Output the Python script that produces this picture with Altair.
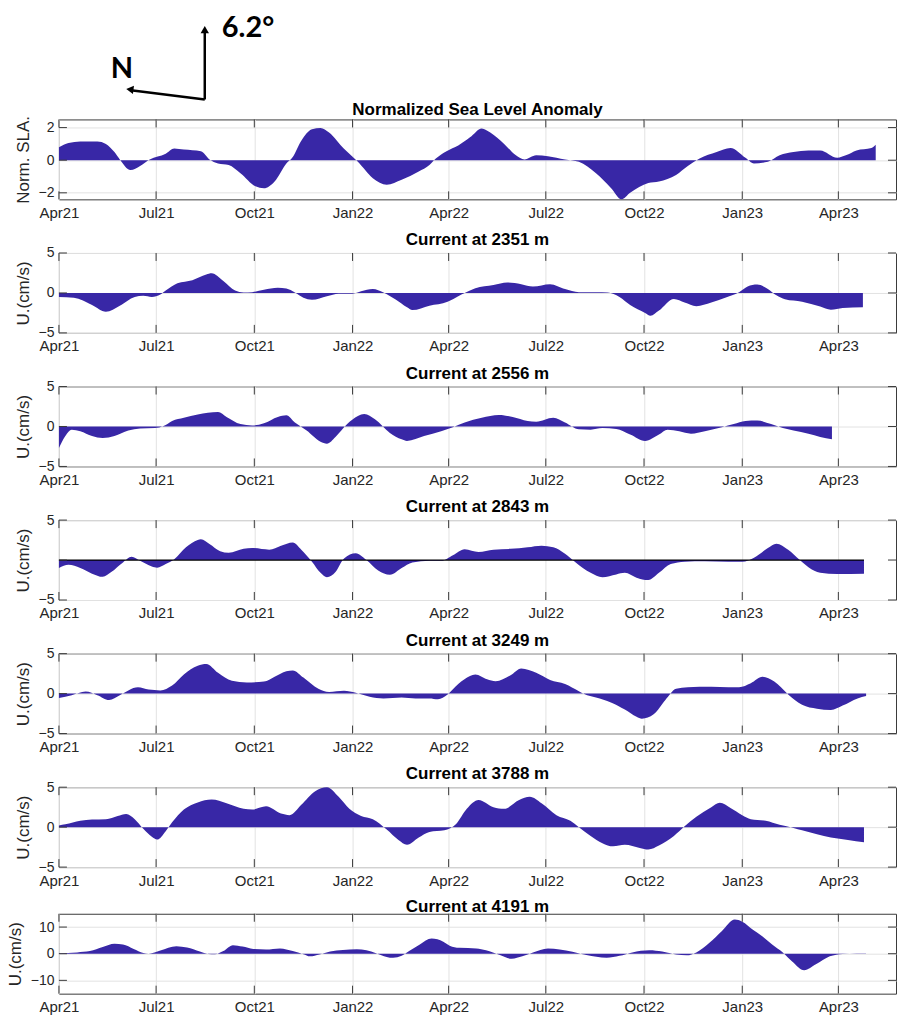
import altair as alt
import pandas as pd

# ---------------------------------------------------------------------------
# Series, sampled as (days since 2021-04-01, value)
# ---------------------------------------------------------------------------
START = pd.Timestamp("2021-04-01")

sla_days = [0, 9, 20, 36, 44, 52, 57, 67, 76, 85, 100, 108, 117, 133, 141, 149, 159, 170,
            184, 192, 202, 213, 219, 227, 237, 245, 253, 267, 280, 294, 307, 321, 337, 347,
            353, 363, 374, 385, 396, 404, 417, 428, 436, 447, 458, 474, 487, 503, 517, 527,
            535, 552, 562, 578, 589, 600, 616, 629, 643, 651, 664, 675, 688, 702, 713, 729,
            737, 747, 761, 765]
sla_vals = [0.8, 1.05, 1.15, 1.15, 1.0, 0.5, 0.05, -0.6, -0.35, 0.05, 0.4, 0.72, 0.65, 0.55,
            0.05, -0.2, -0.3, -0.8, -1.6, -1.72, -1.3, -0.2, 0.2, 1.2, 1.9, 1.98, 1.7, 0.7,
            -0.1, -1.1, -1.5, -1.2, -0.7, -0.3, 0.1, 0.55, 0.9, 1.4, 1.95, 1.7, 1.0, 0.3,
            0.05, 0.3, 0.25, 0.05, -0.1, -0.8, -1.7, -2.4, -2.0, -1.4, -1.3, -0.9, -0.35,
            0.1, 0.5, 0.75, 0.15, -0.2, -0.1, 0.3, 0.5, 0.6, 0.6, 0.15, 0.3, 0.6, 0.75, 0.95]

u2351_days = [0, 14, 31, 44, 57, 71, 79, 87, 95, 100, 111, 125, 138, 143, 154, 165, 173, 181,
              192, 205, 213, 221, 229, 237, 251, 262, 275, 283, 294, 304, 315, 326, 331, 347,
              364, 374, 380, 390, 407, 420, 433, 444, 460, 474, 487, 503, 514, 525, 535, 549,
              554, 562, 576, 586, 597, 611, 624, 637, 645, 654, 664, 672, 680, 696, 713, 723,
              734, 753]
u2351_vals = [-0.5, -0.6, -1.5, -2.35, -1.6, -0.5, -0.35, -0.5, -0.2, 0.3, 1.2, 1.6, 2.3, 2.45,
              1.5, 0.3, 0.05, 0.1, 0.4, 0.65, 0.55, 0.05, -0.6, -0.85, -0.4, -0.1, -0.1, 0.2,
              0.5, 0.05, -0.8, -1.8, -2.15, -1.6, -1.1, -0.4, 0.0, 0.6, 1.0, 1.3, 1.1, 0.8,
              1.1, 0.5, 0.1, 0.1, 0.05, -0.5, -1.5, -2.5, -2.85, -2.2, -0.75, -1.2, -1.65,
              -1.2, -0.6, 0.1, 0.8, 1.05, 0.5, -0.3, -0.8, -1.1, -1.7, -2.1, -1.9, -1.8]

u2556_days = [0, 6, 12, 20, 31, 41, 52, 65, 76, 90, 98, 106, 117, 130, 149, 157, 170, 181,
              192, 205, 213, 221, 232, 245, 251, 259, 270, 280, 286, 296, 310, 321, 326, 342,
              358, 369, 380, 396, 412, 425, 439, 447, 463, 474, 487, 498, 509, 522, 535, 549,
              562, 570, 581, 592, 605, 621, 632, 643, 654, 667, 678, 688, 702, 713, 724]
u2556_vals = [-2.7, -1.2, -0.4, -0.6, -1.2, -1.45, -1.2, -0.5, -0.25, -0.2, 0.05, 0.7, 1.1,
              1.5, 1.8, 1.2, 0.3, 0.12, 0.4, 1.2, 1.4, 0.5, -0.5, -1.9, -2.15, -1.3, 0.3, 1.3,
              1.55, 0.9, -0.8, -1.6, -1.8, -1.2, -0.6, -0.1, 0.5, 1.1, 1.45, 1.2, 0.7, 0.6,
              1.1, 0.5, -0.35, -0.4, -0.2, -0.3, -1.0, -1.8, -1.0, -0.4, -0.6, -0.9, -0.6,
              -0.1, 0.3, 0.7, 0.75, 0.3, -0.2, -0.5, -0.9, -1.3, -1.6]

u2843_days = [0, 9, 20, 31, 41, 49, 60, 68, 76, 87, 92, 100, 108, 119, 130, 133, 141, 151,
              159, 173, 181, 197, 208, 219, 227, 237, 245, 251, 259, 267, 278, 288, 299, 310,
              321, 331, 347, 358, 369, 380, 393, 407, 423, 439, 452, 463, 474, 484, 498, 509,
              522, 530, 541, 552, 562, 573, 586, 605, 627, 640, 651, 664, 672, 683, 694, 702,
              713, 729, 754]
u2843_vals = [-1.0, -0.6, -1.0, -1.7, -2.1, -1.5, -0.3, 0.4, -0.1, -0.8, -0.95, -0.5, 0.1,
              1.6, 2.5, 2.6, 2.0, 1.1, 0.9, 1.4, 1.5, 1.3, 1.8, 2.2, 1.3, -0.2, -1.6, -2.15,
              -1.5, 0.2, 0.85, 0.0, -1.3, -1.85, -1.0, -0.3, -0.1, -0.1, 0.6, 1.35, 1.0, 1.3,
              1.4, 1.6, 1.8, 1.6, 0.8, -0.3, -1.6, -2.15, -1.8, -1.6, -2.2, -2.5, -1.6, -0.5,
              -0.2, -0.15, -0.2, -0.2, 0.3, 1.5, 2.05, 1.3, 0.0, -0.9, -1.6, -1.75, -1.7]

u3249_days = [0, 12, 25, 36, 47, 57, 74, 84, 95, 106, 117, 130, 138, 149, 162, 176, 192, 202,
              213, 219, 229, 243, 253, 267, 278, 291, 304, 321, 334, 347, 355, 364, 374, 385,
              390, 401, 409, 423, 433, 447, 460, 474, 487, 492, 503, 517, 530, 541, 546, 557,
              568, 578, 589, 611, 627, 637, 648, 659, 670, 683, 696, 710, 723, 734, 748, 756]
u3249_vals = [-0.55, -0.2, 0.25, -0.2, -0.8, -0.2, 0.8, 0.5, 0.4, 1.0, 2.4, 3.5, 3.7, 2.6,
              1.6, 1.4, 1.5, 2.1, 2.8, 2.9, 2.0, 0.6, 0.2, 0.35, 0.1, -0.4, -0.6, -0.5, -0.6,
              -0.6, -0.7, -0.1, 1.2, 2.2, 2.4, 1.8, 1.55, 2.3, 3.15, 2.6, 1.7, 1.2, 0.3, -0.05,
              -0.5, -1.1, -2.0, -2.9, -3.15, -2.6, -0.8, 0.6, 0.8, 0.85, 0.8, 0.8, 1.3, 2.1,
              1.5, -0.1, -1.4, -1.9, -2.05, -1.5, -0.6, -0.3]

u3788_days = [0, 6, 20, 31, 44, 55, 63, 71, 79, 87, 92, 100, 106, 117, 130, 143, 157, 173,
              181, 194, 208, 216, 227, 240, 251, 262, 272, 283, 294, 307, 318, 326, 337, 347,
              361, 372, 382, 393, 407, 417, 431, 441, 452, 466, 479, 487, 498, 509, 519, 530,
              544, 552, 562, 576, 586, 597, 611, 619, 629, 640, 648, 662, 675, 688, 696, 710,
              723, 739, 754]
u3788_vals = [0.2, 0.35, 0.8, 0.95, 1.0, 1.4, 1.65, 1.0, -0.2, -1.2, -1.55, -0.5, 0.6, 2.2,
              3.1, 3.45, 3.0, 2.3, 2.2, 2.6, 1.7, 1.5, 2.8, 4.5, 5.0, 3.8, 2.3, 1.4, 1.0, -0.3,
              -1.6, -2.2, -1.3, -0.6, -0.4, 0.4, 2.3, 3.4, 2.5, 2.3, 3.4, 3.8, 3.0, 1.5, 0.8,
              0.0, -1.1, -2.0, -2.4, -2.2, -2.6, -2.8, -2.3, -1.1, 0.1, 1.3, 2.5, 3.05, 2.4,
              1.5, 1.0, 0.8, 0.3, -0.1, -0.4, -0.9, -1.3, -1.6, -1.9]

u4191_days = [0, 17, 29, 41, 52, 60, 70, 79, 84, 95, 110, 120, 132, 140, 146, 154, 163, 172,
              182, 194, 207, 219, 229, 235, 244, 254, 266, 279, 288, 297, 307, 313, 321, 328,
              338, 349, 360, 366, 375, 391, 400, 413, 424, 434, 444, 458, 469, 481, 494, 513,
              525, 537, 553, 565, 578, 588, 597, 609, 621, 633, 640, 650, 659, 668, 678, 687,
              698, 709, 722, 734, 747, 756]
u4191_vals = [0.2, 0.5, 1.0, 2.5, 3.7, 3.5, 1.8, 0.3, 0.0, 1.2, 2.8, 2.3, 0.8, -0.1, -0.2,
              1.0, 3.2, 2.7, 1.8, 1.6, 2.0, 1.0, -0.2, -1.0, -0.3, 0.8, 1.4, 1.7, 1.3, 0.2,
              -1.2, -1.55, -0.8, 1.0, 3.5, 5.7, 4.5, 3.0, 2.2, 2.0, 1.3, -0.5, -1.9, -1.0, 0.5,
              2.0, 1.6, 0.7, -0.5, -1.5, -0.8, 0.5, 1.3, 0.8, -0.3, -0.6, 0.5, 4.0, 8.5, 12.8,
              12.0, 9.0, 6.5, 3.5, 0.5, -3.0, -6.2, -4.0, -1.0, -0.1, 0.1, 0.1]

panel_titles = ["Normalized Sea Level Anomaly", "Current at 2351 m", "Current at 2556 m",
                "Current at 2843 m", "Current at 3249 m", "Current at 3788 m",
                "Current at 4191 m"]
y_titles = ["Norm. SLA.", "U.(cm/s)", "U.(cm/s)", "U.(cm/s)", "U.(cm/s)", "U.(cm/s)",
            "U.(cm/s)"]
y_domains = [[-2.4, 2.5], [-5, 5], [-5, 5], [-5, 5], [-5, 5], [-5, 5], [-15, 15]]
y_ticks = [[-2, 0, 2], [-5, 0, 5], [-5, 0, 5], [-5, 0, 5], [-5, 0, 5], [-5, 0, 5],
           [-10, 0, 10]]
series_days = [sla_days, u2351_days, u2556_days, u2843_days, u3249_days, u3788_days,
               u4191_days]
series_vals = [sla_vals, u2351_vals, u2556_vals, u2843_vals, u3249_vals, u3788_vals,
               u4191_vals]
zero_line = [False, False, False, True, False, False, False]

# quarterly date ticks (year, month)
tick_months = [(2021, 4), (2021, 7), (2021, 10), (2022, 1), (2022, 4), (2022, 7),
               (2022, 10), (2023, 1), (2023, 4)]

north_label = "N"
rotation_label = "6.2°"

# ---------------------------------------------------------------------------
# Styling
# ---------------------------------------------------------------------------
FILL = "#3827a6"
BOX = "#3a3a3a"
W, H = 838, 80
FONT = "Liberation Sans"

tick_values = [alt.DateTime(year=y, month=m, date=1) for y, m in tick_months]
x_domain = [alt.DateTime(year=2021, month=4, date=1), alt.DateTime(year=2023, month=5, date=25)]
tick_df = pd.DataFrame({"date": [pd.Timestamp(year=y, month=m, day=1) for y, m in tick_months]})


def make_panel(i):
    df = pd.DataFrame({
        "date": START + pd.to_timedelta(series_days[i], unit="D"),
        "value": series_vals[i],
    })
    x_axis = alt.Axis(values=tick_values, format="%b%y", title=None, grid=True,
                      ticks=False, domain=False, labelPadding=6, labelFlush=False,
                      labelFontSize=15)
    y_axis = alt.Axis(values=y_ticks[i], title=y_titles[i], grid=True, ticks=False,
                      domain=False, labelPadding=5, titlePadding=6, labelFontSize=14)
    x_enc = alt.X("date:T", scale=alt.Scale(domain=x_domain), axis=x_axis)
    y_enc = alt.Y("value:Q", scale=alt.Scale(domain=y_domains[i], nice=False, zero=False),
                  axis=y_axis)

    area = alt.Chart(df).mark_area(color=FILL, interpolate="monotone").encode(
        x=x_enc, y=y_enc, y2=alt.datum(0)
    )
    layers = [area]

    if zero_line[i]:
        span = pd.DataFrame({"date": [df["date"].min()], "end": [df["date"].max()]})
        layers.append(
            alt.Chart(span).mark_rule(color="black", strokeWidth=1.2).encode(
                x=x_enc, x2="end:T", y=alt.datum(0)
            )
        )

    # inward tick marks on all four sides of the box
    xt = alt.Chart(tick_df)
    layers.append(xt.mark_rule(color=BOX).encode(
        x=x_enc, y=alt.value(H), y2=alt.value(H - 8)))
    layers.append(xt.mark_rule(color=BOX).encode(
        x=x_enc, y=alt.value(0), y2=alt.value(8)))
    yt = alt.Chart(pd.DataFrame({"value": y_ticks[i]}))
    layers.append(yt.mark_rule(color=BOX).encode(
        y=y_enc, x=alt.value(0), x2=alt.value(8)))
    layers.append(yt.mark_rule(color=BOX).encode(
        y=y_enc, x=alt.value(W), x2=alt.value(W - 8)))

    return alt.layer(*layers).properties(
        width=W, height=H,
        title=alt.TitleParams(panel_titles[i], fontSize=17, fontWeight="bold", font=FONT,
                              color="black", offset=-3, frame="group"),
    )


# north / rotation arrows above the first panel
TOP_H = 94
one = pd.DataFrame({"k": [0]})
arrow_up = alt.Chart(one).mark_rule(color="black", strokeWidth=2.5).encode(
    x=alt.value(146), y=alt.value(93), y2=alt.value(24))
arrow_left = alt.Chart(one).mark_rule(color="black", strokeWidth=2.5).encode(
    x=alt.value(146), y=alt.value(93), x2=alt.value(74), y2=alt.value(84))
head_up = alt.Chart(one).mark_point(shape="triangle-up", filled=True, color="black",
                                    size=70, opacity=1).encode(
    x=alt.value(146), y=alt.value(23))
head_left = alt.Chart(one).mark_point(shape="triangle-up", filled=True, color="black",
                                      size=70, opacity=1, angle=277).encode(
    x=alt.value(71), y=alt.value(83))
north = alt.Chart(pd.DataFrame({"label": [north_label]})).mark_text(
    font="Lato", fontSize=29, fontWeight="bold", color="black", align="center",
    baseline="middle").encode(text="label:N", x=alt.value(63), y=alt.value(63))
rotation = alt.Chart(pd.DataFrame({"label": [rotation_label]})).mark_text(
    font="Lato", fontSize=29, fontWeight="bold", color="black", align="left",
    baseline="middle").encode(text="label:N", x=alt.value(163), y=alt.value(21))
top = alt.layer(arrow_up, arrow_left, head_up, head_left, north, rotation).properties(
    width=W, height=TOP_H, view=alt.ViewBackground(stroke="transparent"))

panels = alt.vconcat(*[make_panel(i) for i in range(7)], spacing=8.7)

chart = alt.vconcat(top, panels, spacing=-2).properties(
    padding={"left": 5, "right": 3, "top": 5, "bottom": 5},
    background="white",
).configure_view(
    stroke=BOX, strokeWidth=1
).configure_axis(
    labelFont=FONT, labelColor="#262626",
    titleFont=FONT, titleFontSize=17, titleFontWeight="normal", titleColor="#262626",
    gridColor="#e2e2e2", gridWidth=1,
)

chart.save("out.html", embed_options={"renderer": "svg", "actions": False})
